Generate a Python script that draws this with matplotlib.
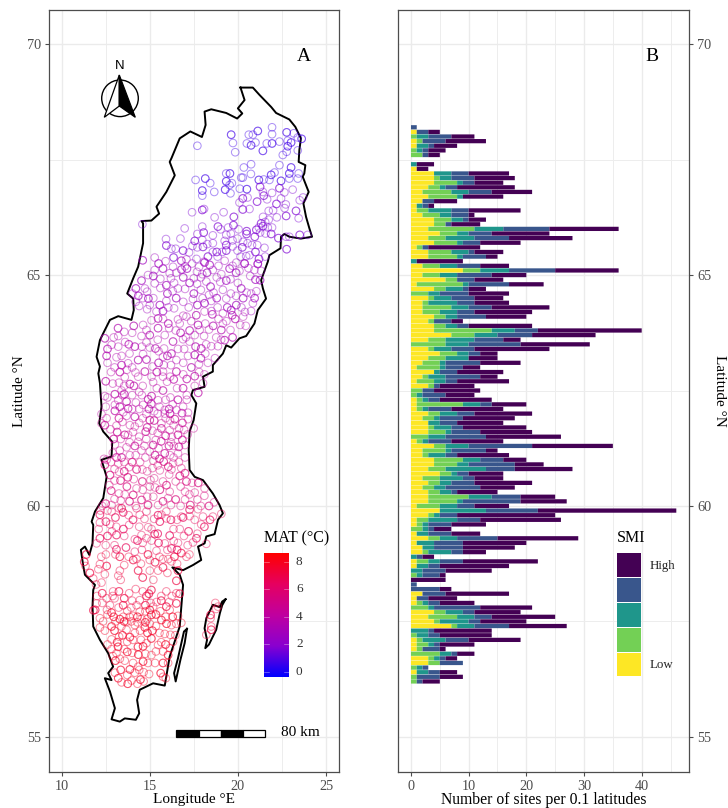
import numpy as np
import matplotlib
matplotlib.use("Agg")
import matplotlib.pyplot as plt
from matplotlib.colors import LinearSegmentedColormap
from matplotlib.patches import Rectangle, Circle, Polygon

plt.rcParams['font.family'] = ['Liberation Serif', 'DejaVu Serif']

# number of sites per 0.1 degree latitude row, north to south
lat_top = 68.2
smi_low = [0,1,0,1,1,0,0,0,0,1, 4,4,4,3,2,3,2,1,1,2, 4,4,3,5,3,4,1,3,3,0, 2,9,2,6,1,4,0,3,2,2,
           2,4,3,4,4,7,3,0,3,5, 3,2,1,4,2,1,3,0,0,1, 1,1,3,2,3,3,3,0,1,4, 2,2,4,4,3,5,2,3,2,3,
           3,3,1,5,3,1,1,0,1,3, 1,2,2,0,1,1,0,0,0,0, 0,2,1,1,0,4,3,4,7,0, 0,1,1,1,0,3,3,0,1,0,0]
smi_2 = [0,0,1,1,0,1,2,0,0,0, 0,1,4,2,5,5,0,0,2,3, 3,2,8,3,3,4,1,4,5,0, 3,3,3,2,8,2,3,1,1,5,
         3,2,1,2,10,4,3,6,1,3, 3,3,4,0,1,3,1,2,1,1, 8,1,2,2,0,1,3,3,1,2, 4,1,5,4,3,2,3,2,2,2,
         7,5,4,0,1,2,1,2,0,2, 0,0,1,0,2,0,0,1,0,0, 0,0,0,1,3,2,5,1,1,0, 1,1,2,1,5,1,2,1,0,1,1]
smi_3 = [0,0,2,0,2,1,0,0,1,0, 3,2,1,1,3,1,0,1,4,2, 2,0,5,2,5,1,0,3,1,1, 3,5,3,0,1,3,2,3,5,3,
         3,2,0,2,4,4,5,4,3,2, 4,1,1,1,3,2,0,0,1,1, 3,1,3,1,2,3,1,3,1,4, 1,3,3,2,7,1,4,2,2,2,
         4,1,3,8,1,5,1,1,2,3, 3,2,4,1,2,2,2,1,0,0, 0,0,0,1,1,3,3,5,3,3, 2,4,1,0,2,1,0,1,2,0,0]
smi_4 = [1,2,4,4,1,1,1,0,0,0, 3,4,2,2,4,0,2,1,3,3, 1,1,8,4,6,3,1,1,4,0, 4,8,6,3,7,1,5,4,3,4,
         3,5,3,2,4,6,5,9,4,2, 0,6,3,3,6,2,1,2,4,2, 2,4,3,4,3,2,5,7,4,11, 6,2,4,8,5,2,2,4,6,1,
         5,10,3,9,3,4,4,1,4,7, 5,5,2,1,4,2,4,3,0,1, 5,4,2,2,8,2,3,2,6,1, 2,4,1,3,1,1,4,1,2,4,1]
smi_high = [0,2,4,7,4,3,2,0,3,2, 7,7,5,10,7,7,4,1,9,1, 3,5,12,10,11,7,9,5,2,8, 5,11,6,5,6,3,7,5,6,10,
            10,7,2,11,18,11,3,12,13,3, 5,7,3,8,3,9,6,8,5,9, 6,9,10,9,8,11,9,13,9,14, 2,9,4,5,10,6,5,10,6,7,
            6,8,6,24,17,14,6,3,5,14, 11,9,4,2,13,12,8,1,6,0, 2,11,5,6,9,8,11,8,10,10, 9,9,6,1,3,2,0,0,3,4,3]
smi_colors = ['#FDE725', '#73D055', '#1F968B', '#39568C', '#440154']

# coastline and border
sweden_lon = [20.15,20.85,21.23,21.89,22.17,22.92,23.26,23.58,23.49,23.45,23.83,23.77,23.68,24.02,23.72,23.87,24.06,24.21,
              23.58,22.92,22.64,22.45,22.42,21.79,21.70,21.32,21.42,21.60,21.13,20.94,20.47,20.09,19.62,19.34,19.15,18.58,
              18.58,18.02,18.11,17.45,17.36,17.64,17.49,17.26,17.21,17.26,17.55,18.02,18.58,18.96,19.15,18.87,18.68,18.21,
              18.11,17.74,17.92,17.45,16.89,16.28,16.70,16.89,16.79,16.70,16.42,16.13,15.94,15.85,15.19,14.43,14.28,14.40,
              14.21,13.58,13.30,12.83,13.02,12.74,12.45,12.83,12.64,12.92,12.64,12.17,11.79,11.75,11.79,11.89,11.32,11.23,
              11.09,11.32,11.57,11.75,11.79,11.70,11.89,12.36,12.55,12.26,12.83,12.87,12.36,12.13,12.26,12.17,12.08,12.17,
              11.98,12.17,12.36,12.74,13.21,13.96,14.09,14.06,13.72,14.06,14.34,14.62,14.62,14.53,15.09,15.53,15.38,15.94,
              16.42,16.13,16.23,16.70,17.30,17.96,18.17,18.11,18.49,19.34,19.96,20.25,20.00,20.38,20.15]
sweden_lat = [69.06,69.06,68.90,68.64,68.51,68.37,68.21,67.96,67.71,67.45,67.38,67.20,67.13,66.80,66.55,66.26,66.01,65.83,
              65.79,65.83,65.89,65.83,65.58,65.43,65.29,64.89,64.71,64.49,64.24,63.95,63.68,63.63,63.43,63.48,63.30,63.05,
              62.91,62.80,62.58,62.51,62.40,62.22,61.86,61.61,61.21,60.78,60.63,60.56,60.27,60.02,59.84,59.70,59.39,59.34,
              59.19,59.12,58.83,58.72,58.61,58.67,58.51,58.29,57.82,57.39,57.07,56.74,56.31,56.11,56.16,56.02,55.80,55.51,
              55.37,55.40,55.33,55.38,55.62,55.98,56.27,56.23,56.38,56.52,56.81,57.10,57.39,57.82,58.18,58.29,58.51,58.69,
              59.05,59.12,58.94,59.19,59.59,59.66,59.88,60.17,60.63,61.00,61.07,61.39,61.61,61.79,62.15,62.66,62.87,63.02,
              63.23,63.59,63.74,64.03,64.11,64.03,64.24,64.49,64.60,64.93,65.18,65.69,66.12,66.17,66.18,66.33,66.48,66.80,
              67.16,67.45,67.53,67.96,68.11,67.99,68.25,68.54,68.59,68.51,68.39,68.50,68.61,68.79,69.06]
gotland_lon = [19.30,19.11,18.96,18.58,18.21,18.11,18.25,18.15,18.36,18.77,18.98,19.11,19.30]
gotland_lat = [57.98,57.93,57.81,57.86,57.57,57.35,57.10,56.92,57.00,57.32,57.68,57.85,57.98]
oland_lon = [17.11,16.94,16.60,16.38,16.47,16.74,16.98,17.11]
oland_lat = [57.34,57.28,56.70,56.38,56.20,56.67,57.03,57.34]

# sites (lon, lat) grouped by the colour they show
mat_north = 0.7
sites_north = [(19.62,68.04),(20.62,68.04),(20.85,68.04),(21.13,68.12),(21.94,68.20),(21.94,68.05),(22.77,68.09),(23.17,68.07),
    (23.40,67.98),(23.62,67.95),(19.72,67.86),(20.51,67.85),(20.75,67.81),(21.00,67.87),(21.64,67.85),(21.94,67.85),(22.36,67.89),
    (22.83,67.91),(23.02,67.87),(17.70,67.80),(19.85,67.66),(21.42,67.69),(22.55,67.60),(22.77,67.67),(22.83,67.79),(23.40,67.70),
    (22.36,67.38),(23.02,67.33),(20.75,67.40),(20.34,67.33),(22.92,67.20),(23.45,67.20),(22.08,67.22),(21.89,67.17),(20.74,67.19),
    (19.34,67.20),(19.55,67.20),(20.19,67.11),(20.28,67.11),(18.15,67.09),(17.60,67.06),(18.43,66.99),(19.34,67.03),(19.66,66.99),
    (19.53,66.95),(21.19,67.06),(21.47,67.07),(21.79,67.06),(22.45,67.04),(22.92,67.09),(23.40,67.09),(17.98,66.83),(17.98,66.72),
    (18.66,66.80),(19.28,66.85),(19.58,66.77),(20.11,66.87),(20.51,66.86)]
mat_upper = 1.7
sites_upper = [(21.26,66.91),(21.42,66.80),(21.94,66.78),(22.36,66.88),(22.64,66.79),(23.11,66.85),(21.47,66.72),(21.66,66.64),
    (22.45,66.66),(20.28,66.66),(20.55,66.68),(20.09,66.57),(21.09,66.59),(23.51,66.62),(23.70,66.68),(22.19,66.54),(22.72,66.53),
    (17.40,66.36),(17.98,66.41),(18.08,66.43),(19.19,66.36),(20.28,66.42),(20.66,66.43),(21.75,66.39),(23.30,66.39),(23.45,66.23),
    (18.68,66.25),(19.77,66.26),(21.43,66.26),(22.21,66.25),(22.74,66.28),(16.98,66.01),(17.98,66.05),(18.87,66.05),(19.02,65.99),
    (19.45,66.03),(19.75,66.08),(20.04,65.99),(21.19,66.03),(21.42,66.06),(21.70,66.03),(21.94,66.03),(21.32,66.12),(21.26,65.92),
    (21.57,65.90),(21.89,65.89),(22.74,65.83),(22.92,65.83),(23.51,65.87),(23.96,65.87),(17.70,65.89),(18.06,65.92),(18.58,65.86),
    (19.34,65.87),(20.49,65.89),(19.98,65.79),(20.55,65.69),(20.96,65.83),(15.92,65.78),(16.74,65.79),(17.55,65.74),(17.98,65.76),
    (19.25,65.74),(15.94,65.64),(16.23,65.57),(16.47,65.57),(16.89,65.53),(17.23,65.49),(17.42,65.63),(18.02,65.61),(18.26,65.67),
    (18.58,65.69),(19.34,65.65),(19.11,65.50),(19.98,65.53),(19.34,65.53),(18.58,65.50),(20.66,65.43),(21.00,65.50),(21.51,65.59),
    (20.47,65.41),(22.77,65.56),(14.58,66.10)]
sites_upper += [(17.70,65.60),(18.80,65.50),(19.60,65.90),(19.70,65.62),(20.25,65.60),(20.15,65.40),(20.80,65.65),(21.20,65.35),
    (21.55,65.40),(21.10,65.65),(22.30,65.80),(21.55,66.15),(21.75,66.20),(21.05,65.98),(22.00,66.40),(22.65,66.45),(20.50,65.95),
    (20.30,65.72),(19.70,65.75),(18.30,65.40),(18.85,65.40),(17.65,65.35),(16.35,65.38)]
mat_mid_n = 2.8
sites_mid_n = [(14.60,65.32),(15.28,65.38),(17.08,65.34),(16.79,65.31),(19.25,65.31),(19.91,65.27),(20.38,65.25),(21.13,65.25),
    (18.08,65.29),(15.75,65.14),(16.32,65.18),(16.13,65.04),(17.11,65.14),(17.68,65.07),(17.98,65.02),(18.25,65.05),(18.58,65.11),
    (19.06,65.02),(19.53,65.14),(20.09,65.09),(20.94,65.11),(21.13,65.24),(21.32,65.09),(20.38,65.25),(18.11,65.27),(15.28,65.11),
    (17.00,65.19),(14.53,64.88),(15.28,64.82),(14.72,64.71),(14.21,64.71),(14.02,64.60),(14.85,64.64),(15.94,64.78),(16.38,64.83),
    (16.60,64.71),(17.26,64.83),(17.68,64.81),(18.21,64.86),(19.34,64.88),(19.58,64.91),(20.00,64.83),(20.19,64.71),(20.75,64.60),
    (19.15,64.68),(21.26,64.89),(18.62,64.62),(18.36,64.57),(14.92,64.49),(14.40,64.33),(15.94,64.44),(15.57,64.35),(16.38,64.28),
    (17.21,64.30),(18.11,64.39),(18.49,64.44),(19.34,64.49),(19.91,64.35),(20.85,64.39),(20.75,64.22),(19.62,64.24),(14.85,64.26),
    (15.38,64.21)]
sites_mid_n += [(15.50,65.25),(15.90,65.30),(16.50,65.05),(16.80,65.12),(17.40,65.25),(17.80,65.18),(18.40,65.22),(18.90,65.20),
    (19.70,65.20),(19.90,65.05),(20.60,65.15),(20.70,64.98),(21.00,64.90),(18.80,64.95),(19.00,64.85),(18.45,64.75),(17.90,64.95),
    (17.50,64.93),(16.90,64.95),(16.20,64.93),(15.60,64.92),(15.20,64.98),(14.90,65.00),(15.60,64.72),(16.00,64.60),(16.30,64.65),
    (17.00,64.70),(17.50,64.60),(17.90,64.68),(18.00,64.50),(18.80,64.50),(19.60,64.60),(19.90,64.55),(20.30,64.50),(20.50,64.62),
    (21.05,64.65),(20.95,64.50),(20.20,64.30),(20.40,64.20),(19.40,64.30),(18.85,64.30),(18.50,64.22),(17.70,64.35),(17.45,64.48),
    (16.90,64.42),(16.50,64.50),(15.20,64.50),(15.00,64.35),(15.75,64.22),(16.05,64.30),(14.60,64.50),(14.35,64.55),(14.20,64.42)]
mat_mid = 3.5
sites_mid = [(15.47,64.06),(16.60,64.04),(17.08,64.10),(17.64,64.13),(18.11,64.21),(19.15,64.17),(19.68,64.13),(19.15,63.95),
    (20.13,63.92),(17.74,63.92),(16.70,63.95),(14.62,63.92),(14.09,63.90),(13.21,63.68),(13.55,63.77),(12.45,63.63),(14.53,63.68),
    (14.81,63.81),(15.47,63.85),(15.85,63.70),(16.47,63.80),(17.26,63.80),(17.83,63.81),(18.36,63.82),(19.06,63.81),(19.58,63.81),
    (18.77,63.65),(19.25,63.59),(18.08,63.68),(12.83,63.49),(13.81,63.50),(13.21,63.45),(14.81,63.54),(15.32,63.41),(15.00,63.43),
    (15.81,63.41),(16.32,63.56),(16.89,63.61),(17.26,63.56),(17.92,63.41),(18.49,63.46),(18.87,63.46),(16.23,63.30),(14.62,63.29),
    (17.17,63.25),(17.55,63.27),(15.75,63.23),(13.11,63.22),(14.81,63.17),(16.51,63.16),(13.77,63.09),(14.34,63.16),(15.15,63.02),
    (17.79,63.07),(17.36,63.00)]
sites_mid += [(15.10,64.02),(15.75,64.05),(16.05,63.95),(16.90,64.12),(17.35,64.00),(18.55,64.15),(18.90,64.05),(19.35,64.00),
    (19.85,64.05),(20.30,64.10),(20.45,63.90),(18.60,63.90),(18.15,63.95),(16.10,63.85),(16.75,63.75),(17.55,63.70),(17.05,63.65),
    (15.00,63.70),(15.45,63.60),(14.00,63.75),(13.20,63.85),(13.60,63.55),(12.95,63.65),(12.60,63.40),(13.40,63.25),(13.85,63.30),
    (14.15,63.45),(14.55,63.45),(15.50,63.35),(16.00,63.25),(16.60,63.40),(16.95,63.40),(17.60,63.45),(18.20,63.50),(19.05,63.60),
    (19.70,63.65),(18.15,63.30),(18.70,63.20),(17.90,63.20),(16.90,63.10),(16.20,63.05),(15.50,63.10),(15.80,63.05),(14.00,63.00),
    (13.40,63.05),(13.00,63.00),(12.60,63.10),(12.55,63.25),(18.30,63.10)]
mat_centre = 3.9
sites_centre = [(14.72,62.91),(14.19,62.89),(15.75,62.91),(16.51,62.91),(14.34,62.80),(13.58,62.79),(17.55,62.81),(15.75,62.80),
    (13.25,62.67),(13.87,62.64),(15.19,62.68),(15.98,62.69),(16.36,62.74),(18.02,62.66),(17.55,62.60),(16.89,62.55),(13.40,62.50),
    (14.40,62.47),(13.02,62.42),(12.45,62.38),(16.17,62.35),(14.91,62.31),(15.47,62.29),(13.21,62.29),(13.68,62.26),(14.21,62.24),
    (14.62,62.19),(15.09,62.21),(16.89,62.15),(13.02,62.19),(13.77,62.11),(15.85,62.08),(12.26,61.99),(13.02,62.06),(14.81,61.99),
    (16.51,62.08),(16.83,62.01),(17.17,62.02),(13.68,61.95),(14.15,61.93),(15.85,62.00)]
sites_centre += [(12.80,62.90),(13.30,62.90),(13.70,62.95),(15.10,62.80),(15.40,62.90),(16.15,62.80),(16.90,62.85),(17.10,62.75),
    (17.80,62.90),(18.10,62.85),(12.50,62.70),(12.90,62.65),(13.55,62.60),(14.10,62.60),(14.60,62.60),(15.40,62.55),(15.75,62.50),
    (16.55,62.55),(17.10,62.40),(17.75,62.45),(12.60,62.35),(13.45,62.40),(13.55,62.42),(14.00,62.40),(14.55,62.40),(15.10,62.38),
    (15.90,62.30),(16.30,62.20),(16.60,62.30),(17.10,62.30),(12.50,62.15),(13.30,62.15),(14.00,62.10),(14.40,62.10),(14.95,62.10),
    (15.25,62.05),(15.55,62.15),(16.10,62.10),(13.50,62.03),(15.45,62.00),(16.15,62.00)]
mat_s1 = 4.6
sites_s1 = [(16.42,61.88),(17.17,61.88),(12.26,61.79),(12.45,61.75),(13.11,61.74),(13.87,61.75),(15.00,61.86),(15.66,61.79),
    (12.77,61.66),(13.58,61.54),(13.77,61.54),(14.40,61.50),(14.77,61.61),(15.15,61.63),(16.66,61.68),(15.66,61.68),(16.13,61.64),
    (17.49,61.68),(16.60,61.54),(14.34,61.39),(15.34,61.43),(16.85,61.43),(13.02,61.33),(13.68,61.27),(16.09,61.30),(16.36,61.30),
    (17.00,61.32),(15.19,61.32),(14.53,61.20),(15.00,61.18),(13.11,61.05),(13.87,61.10),(17.00,61.05),(15.85,61.14),(16.60,61.14)]
sites_s1 += [(12.55,61.90),(13.25,61.90),(14.40,61.80),(14.60,61.90),(15.25,61.85),(15.90,61.90),(16.15,61.85),(16.85,61.80),
    (13.45,61.82),(14.15,61.72),(14.85,61.70),(16.35,61.75),(16.95,61.65),(13.15,61.60),(14.05,61.60),(15.45,61.58),(15.90,61.52),
    (16.25,61.50),(17.15,61.55),(12.95,61.45),(13.35,61.45),(14.80,61.45),(15.65,61.40),(16.20,61.38),(13.85,61.38),(14.15,61.30),
    (14.70,61.30),(15.50,61.25),(16.65,61.28),(13.30,61.20),(12.90,61.15),(13.40,61.05),(14.20,61.10),(14.75,61.05),(15.30,61.10),
    (16.15,61.10),(16.35,61.05),(15.55,61.02),(12.40,61.02),(12.55,61.00)]
mat_s2 = 5.5
sites_s2 = [(12.45,60.89),(13.21,60.92),(13.83,60.84),(14.25,60.79),(14.58,60.79),(15.15,60.82),(15.79,60.96),(16.32,60.92),
    (16.79,60.82),(12.74,60.67),(13.26,60.74),(15.57,60.77),(17.00,60.71),(16.23,60.79),(14.09,60.58),(14.58,60.53),(15.04,60.56),
    (15.75,60.53),(13.34,60.55),(16.47,60.53),(17.00,60.31),(17.08,60.53),(15.00,60.42),(14.25,60.38),(12.81,60.33),(13.25,60.27),
    (13.58,60.25),(14.06,60.24),(17.55,60.29),(18.11,60.38),(15.57,60.35),(16.13,60.31),(16.04,60.17),(16.47,60.14),(17.00,60.14),
    (17.70,60.14),(14.53,60.13),(15.47,60.02),(12.83,60.02),(18.36,60.00)]
sites_s2 += [(12.80,60.95),(13.55,60.95),(14.00,60.95),(14.45,60.95),(15.20,60.98),(16.05,60.85),(16.65,60.95),(13.00,60.80),
    (13.55,60.75),(14.85,60.75),(15.45,60.88),(16.70,60.65),(16.10,60.68),(15.25,60.60),(13.75,60.62),(13.00,60.55),(12.70,60.45),
    (13.70,60.42),(14.60,60.35),(15.30,60.40),(15.95,60.45),(16.75,60.42),(17.40,60.50),(17.75,60.50),(13.00,60.15),(13.35,60.12),
    (13.85,60.10),(14.85,60.20),(15.20,60.20),(15.75,60.10),(16.20,60.02),(16.75,60.00),(17.30,60.02),(17.90,60.00),(18.65,60.08),
    (12.50,60.05),(12.30,60.00),(14.20,60.00),(14.90,60.02),(18.10,60.22),(17.25,60.25)]
mat_s3 = 6.6
sites_s3 = [(13.40,59.95),(14.25,59.95),(15.94,59.88),(17.26,59.92),(17.74,59.93),(19.06,59.83),(12.17,59.81),(12.83,59.88),
    (14.81,59.88),(15.47,59.80),(16.79,59.77),(18.58,59.77),(13.49,59.86),(14.43,59.81),(15.66,59.81),(16.89,59.75),(17.26,59.78),
    (18.02,59.77),(18.42,59.70),(12.17,59.64),(13.83,59.59),(15.57,59.66),(15.94,59.73),(17.92,59.60),(12.51,59.66),(14.91,59.54),
    (11.98,59.19),(13.11,59.37),(14.15,59.28),(14.81,59.30),(16.13,59.36),(16.94,59.35),(16.36,59.24),(15.28,59.39),(17.45,59.21),
    (18.21,59.18),(12.17,59.30),(14.53,59.37),(15.85,59.19),(13.11,59.06),(14.15,59.01),(15.38,59.03),(16.23,59.08)]
sites_s3 += [(12.60,59.90),(12.20,59.90),(13.05,59.75),(13.25,59.95),(13.80,59.80),(14.05,59.70),(14.70,59.72),(15.25,59.72),
    (16.20,59.70),(16.55,59.70),(17.55,59.70),(18.10,59.55),(12.75,59.60),(13.10,59.55),(13.50,59.50),(14.40,59.55),(15.10,59.50),
    (15.45,59.40),(16.35,59.50),(16.70,59.50),(17.20,59.45),(17.70,59.40),(12.10,59.50),(12.60,59.35),(12.85,59.45),(13.55,59.35),
    (14.30,59.25),(14.60,59.20),(15.10,59.25),(15.50,59.20),(16.60,59.20),(17.15,59.15),(17.65,59.30),(12.50,59.15),(13.00,59.15),
    (13.65,59.10),(14.55,59.05),(16.00,59.05),(16.55,59.05)]
mat_s4 = 7.2
sites_s4 = [(16.79,58.98),(12.51,58.95),(17.08,58.90),(14.06,58.83),(15.00,58.83),(16.23,58.80),(11.28,58.79),(12.17,58.74),
    (13.30,58.60),(14.34,58.60),(15.00,58.60),(15.47,58.60),(15.75,58.67),(12.08,58.63),(13.21,58.49),(16.51,58.38),(11.79,58.43),
    (12.26,58.34),(12.30,58.11),(12.92,58.15),(13.83,58.11),(15.09,58.18),(15.94,58.15),(16.51,58.11),(14.81,58.05),(12.89,58.05),
    (15.38,57.92),(15.94,57.82),(11.98,57.89),(12.74,57.85),(13.49,57.85),(14.43,57.96),(15.19,57.82),(16.51,57.89),(12.57,57.75),
    (13.23,57.80),(11.80,57.74),(18.72,57.90),(18.87,57.82),(18.45,57.64),(18.45,57.57),(18.49,57.39),(18.49,57.32),(18.21,57.21),(18.77,57.77)]
sites_s4 += [(11.40,58.95),(12.25,58.90),(13.05,58.95),(13.30,58.90),(13.80,58.90),(14.25,58.85),(14.90,58.95),(15.55,58.90),
    (16.05,58.85),(16.40,58.90),(17.25,58.95),(11.35,58.70),(12.55,58.70),(13.55,58.72),(14.50,58.75),(15.30,58.78),(15.75,58.85),
    (16.55,58.75),(11.60,58.55),(12.45,58.52),(13.35,58.40),(14.60,58.45),(15.20,58.40),(16.00,58.55),(16.60,58.60),(11.95,58.30),
    (13.00,58.00),(13.25,58.15),(14.20,58.20),(14.60,58.15),(14.95,58.10),(15.65,58.05),(16.25,58.05),(16.70,58.10),(12.00,58.05),
    (12.55,58.00),(13.55,58.00),(14.00,57.95),(14.25,57.85),(15.65,57.95),(15.05,57.90),(16.10,57.92),(11.90,57.75),(12.30,57.90),
    (13.95,57.80),(14.75,57.85)]
mat_south = 7.7
sites_south = [(12.83,57.69),(13.72,57.73),(14.43,57.71),(15.00,57.75),(16.13,57.75),(12.17,57.57),(13.30,57.55),(14.06,57.62),
    (14.53,57.55),(15.66,57.53),(16.60,57.62),(13.68,57.49),(15.09,57.64),(16.23,57.42),(12.17,57.37),(12.83,57.39),(13.39,57.39),
    (14.15,57.42),(14.72,57.37),(16.79,57.47),(13.68,57.32),(14.87,57.25),(15.85,57.23),(16.17,57.21),(13.87,57.16),(12.83,57.11),
    (13.26,57.17),(15.09,57.13),(16.32,57.06),(13.72,57.06),(14.33,56.95),(14.81,57.03),(15.47,56.99),(14.62,56.96),(12.83,56.90),
    (13.11,56.81),(13.72,56.84),(15.09,56.77),(15.75,56.85),(16.04,56.77),(13.30,56.69),(13.58,56.65),(14.62,56.63),(16.04,56.60),
    (14.34,56.52),(13.87,56.46),(13.02,56.39),(14.96,56.36),(15.62,56.38),(14.15,56.39),(13.72,56.34),(13.21,56.27),(13.40,56.18),
    (13.97,56.22),(14.47,56.24),(15.91,56.27)]
sites_south += [(12.60,57.65),(12.95,57.60),(13.50,57.60),(13.85,57.60),(14.30,57.60),(14.75,57.72),(14.85,57.55),(15.35,57.65),
    (15.60,57.72),(15.90,57.60),(16.30,57.60),(12.35,57.50),(13.05,57.50),(13.55,57.50),(13.95,57.50),(14.30,57.48),(14.75,57.48),
    (15.00,57.45),(15.35,57.40),(15.95,57.45),(16.50,57.45),(12.45,57.30),(13.00,57.30),(14.15,57.25),(14.45,57.30),(15.15,57.30),
    (15.55,57.25),(16.45,57.20),(13.45,57.20),(14.50,57.10),(14.05,57.10),(13.15,57.05),(15.65,57.05),(12.60,57.00),(13.20,56.95),
    (13.55,56.90),(14.00,56.82),(14.35,56.78),(14.75,56.80),(15.35,56.85),(15.90,57.00),(16.15,56.92),(12.90,56.75),(13.05,56.65),
    (14.90,56.60),(15.30,56.60),(15.75,56.60),(14.05,56.60),(14.40,56.45),(13.35,56.45),(14.65,56.40),(15.75,56.30),(13.75,56.15),
    (14.30,56.15),(14.65,56.20)]

mat_cmap = LinearSegmentedColormap.from_list('mat', ['#0000FF', '#8A00D0', '#C000A0', '#E60060', '#FF0000'])
mat_min, mat_max = -0.36, 8.65

W, H = 728, 808
fig = plt.figure(figsize=(W / 100, H / 100), dpi=100)
XLABEL_Y = -28 / 761.5


def px_axes(left, right, top, bottom):
    return fig.add_axes([left / W, 1 - bottom / H, (right - left) / W, (bottom - top) / H])


def style(ax):
    ax.set_axisbelow(True)
    ax.grid(True, which='major', color='#ebebeb', lw=1.0)
    ax.grid(True, which='minor', color='#ededed', lw=0.7)
    for s in ax.spines.values():
        s.set_color('#4d4d4d')
        s.set_linewidth(0.9)
    ax.tick_params(which='major', length=3, width=0.8, color='#4d4d4d', labelcolor='#4d4d4d', labelsize=10.3, pad=3)
    ax.tick_params(which='minor', length=0)
    ax.set_ylim(54.25, 70.74)
    ax.set_yticks([55, 60, 65, 70])
    ax.set_yticks([57.5, 62.5, 67.5], minor=True)


# panel A
ax = px_axes(49, 339, 10, 771.5)
style(ax)
ax.set_xlim(9.28, 25.74)
ax.set_xticks([10, 15, 20, 25])
ax.set_xticks([12.5, 17.5, 22.5], minor=True)
ax.set_xlabel('Longitude °E', fontsize=11, va='center')
ax.xaxis.set_label_coords(0.5, XLABEL_Y)
ax.set_ylabel('Latitude °N', fontsize=11, labelpad=0.5)
for lon, lat in [(sweden_lon, sweden_lat), (gotland_lon, gotland_lat), (oland_lon, oland_lat)]:
    ax.plot(lon, lat, color='black', lw=1.4, zorder=2, solid_joinstyle='round')
groups = [(mat_north, sites_north), (mat_upper, sites_upper), (mat_mid_n, sites_mid_n), (mat_mid, sites_mid),
          (mat_centre, sites_centre), (mat_s1, sites_s1), (mat_s2, sites_s2), (mat_s3, sites_s3),
          (mat_s4, sites_s4), (mat_south, sites_south)]
for mat, sites in groups:
    c = mat_cmap((mat - mat_min) / (mat_max - mat_min))
    lons, lats = zip(*sites)
    ax.scatter(lons, lats, s=30, facecolors='none', edgecolors=[c], linewidths=0.75, alpha=0.42, zorder=3)
    # some sites are stacked on top of each other and read darker
    ax.scatter(lons[::3], lats[::3], s=30, facecolors='none', edgecolors=[c], linewidths=0.75, alpha=0.42, zorder=3)
ax.text(0.879, 0.9385, 'A', transform=ax.transAxes, fontsize=14, ha='center', va='center')

# panel B
bx = px_axes(398, 689, 10, 771.5)
style(bx)
bx.set_xlim(-2.25, 48.2)
bx.set_xticks([0, 10, 20, 30, 40])
bx.set_xticks([5, 15, 25, 35, 45], minor=True)
bx.yaxis.tick_right()
bx.set_xlabel('Number of sites per 0.1 latitudes', fontsize=11.3, va='center')
bx.xaxis.set_label_coords(0.5, XLABEL_Y)
bx.yaxis.set_label_position('right')
bx.set_ylabel('Latitude °N', fontsize=11, rotation=270, va='center', ha='center')
bx.yaxis.set_label_coords(1 + 31 / 291, 0.5)
n_rows = len(smi_low)
row_lat = lat_top - 0.1 * np.arange(n_rows)
left = np.zeros(n_rows)
for vals, col in zip([smi_low, smi_2, smi_3, smi_4, smi_high], smi_colors):
    bars = bx.barh(row_lat, vals, left=left, height=0.092, color=col, linewidth=0, zorder=3)
    for b in bars:
        b.set_snap(False)
    left += np.array(vals)
bx.text(0.873, 0.9385, 'B', transform=bx.transAxes, fontsize=14, ha='center', va='center')

# overlay in figure pixels for the north arrow, scale bar and legends
ov = fig.add_axes([0, 0, 1, 1], facecolor='none')
ov.set_xlim(0, W)
ov.set_ylim(H, 0)
ov.axis('off')
ov.add_patch(Circle((120, 98.3), 18.3, fill=False, ec='black', lw=1))
ov.add_patch(Polygon([(119.3, 75), (104.3, 117.3), (119.3, 106)], closed=True, fc='white', ec='black', lw=0.9))
ov.add_patch(Polygon([(119.3, 75), (135.3, 117.3), (119.3, 106)], closed=True, fc='black', ec='black', lw=0.9))
ov.text(119.5, 66, 'N', family=['Liberation Sans'], fontsize=9.5, ha='center', va='center')

for x0, x1, col in [(176, 199, 'black'), (199, 220.7, 'white'), (220.7, 243.3, 'black'), (243.3, 265, 'white')]:
    ov.add_patch(Rectangle((x0, 729.5), x1 - x0, 7.5, fc=col, ec='black', lw=0.9))
ov.text(300.5, 733, '80 km', fontsize=11, ha='center', va='center')

# MAT colourbar
grad = np.linspace(1, 0, 256).reshape(-1, 1)
ov.imshow(grad, cmap=mat_cmap, extent=(264, 289, 676.7, 552.7), aspect='auto', zorder=2)
ov.set_xlim(0, W)
ov.set_ylim(H, 0)
ov.text(264, 538, 'MAT (°C)', fontsize=11.5, ha='left', va='center')
for v in [0, 2, 4, 6, 8]:
    y = 671.7 - 13.75 * v
    ov.plot([264, 269], [y, y], color='white', lw=0.4, alpha=0.6, zorder=3)
    ov.plot([284, 289], [y, y], color='white', lw=0.4, alpha=0.6, zorder=3)
    ov.text(296, y, str(v), fontsize=9.5, color='#333333', ha='left', va='center')

# SMI legend
ov.text(617, 538, 'SMI', fontsize=11.5, ha='left', va='center')
key_tops = [553.3, 578.3, 603.3, 628.3, 652.7]
for top, col in zip(key_tops, smi_colors[::-1]):
    ov.add_patch(Rectangle((617.3, top), 23.4, 23.4, fc=col, ec='none'))
ov.text(649.3, 565.7, 'High', fontsize=9.3, color='#222222', ha='left', va='center')
ov.text(649.3, 665, 'Low', fontsize=9.3, color='#222222', ha='left', va='center')

fig.savefig('out.png', dpi=100)
